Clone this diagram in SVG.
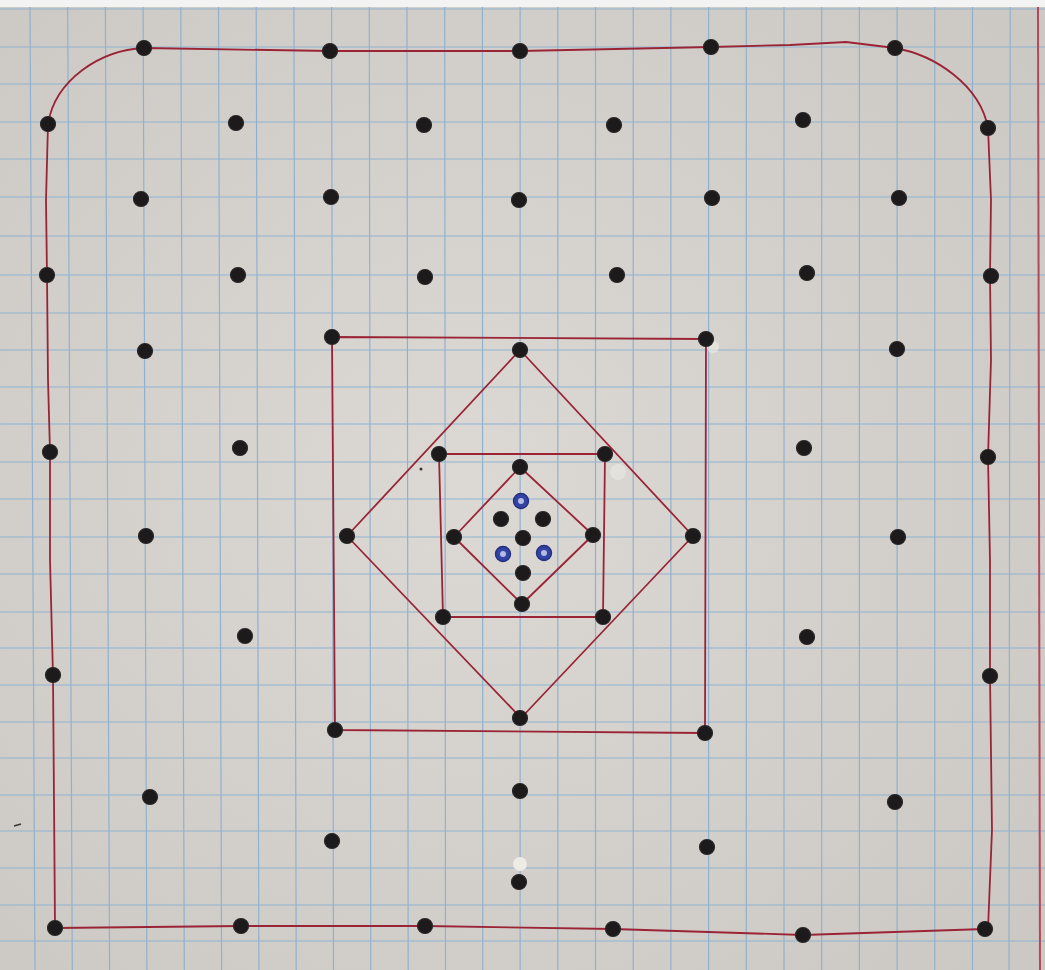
<svg xmlns="http://www.w3.org/2000/svg" width="1045" height="970" viewBox="0 0 1045 970">
<style>
.g{stroke:#8fb1cf;stroke-width:1.2;fill:none}
.ink{stroke:#9a2436;stroke-width:1.8;fill:none;stroke-linejoin:round;stroke-linecap:round}
.d{fill:#1d1a1b;stroke:#2b2728;stroke-width:1.2}
.b{fill:#3343a3;stroke:#22307e;stroke-width:1.4}
.bh{fill:#b4bce2}
</style>
<defs>
<radialGradient id="paper" cx="45%" cy="50%" r="70%">
<stop offset="0" stop-color="#dcd9d5"/>
<stop offset="1" stop-color="#ccc9c5"/>
</radialGradient>
</defs>
<rect width="1045" height="970" fill="url(#paper)"/>
<rect width="1045" height="7" fill="#f3f3f3"/>
<g id="grid" class="g">
<path d="M30,7L35,970M67.7,7L72.3,970M105.4,7L109.6,970M143.1,7L146.9,970M180.8,7L184.3,970M218.5,7L221.6,970M256.2,7L258.9,970M293.9,7L296.2,970M331.6,7L333.5,970M369.3,7L370.8,970M407,7L408.2,970M444.7,7L445.5,970M482.4,7L482.8,970M520.1,7L520.1,970M557.8,7L557.8,970M595.5,7L595.5,970M633.2,7L633.2,970M670.9,7L670.9,970M708.6,7L708.6,970M746.3,7L746.3,970M784,7L784,970M821.7,7L821.7,970M859.4,7L859.4,970M897.1,7L897.1,970M934.8,7L934.8,970M972.5,7L972.5,970M1010.2,7L1009,970"/>
<path d="M0,9H1045M0,47H1045M0,84H1045M0,122H1045M0,159H1045M0,197H1045M0,236H1045M0,275H1045M0,313H1045M0,350H1045M0,387H1045M0,424H1045M0,462H1045M0,499H1045M0,537H1045M0,574H1045M0,612H1045M0,648H1045M0,685H1045M0,722H1045M0,758H1045M0,795H1045M0,831H1045M0,868H1045M0,905H1045M0,941H1045"/>
</g>
<line id="margin" x1="1038" y1="7" x2="1040" y2="970" stroke="#b4475a" stroke-width="2"/>
<g id="marks">
<circle cx="520" cy="864" r="7" fill="#ecebe6"/>
<circle cx="618" cy="472" r="8" fill="#eeede8" opacity="0.5"/>
<circle cx="713" cy="347" r="6" fill="#eeede8" opacity="0.6"/>
<circle cx="421" cy="469" r="1.5" fill="#3a3536"/>
<line x1="14" y1="826" x2="21" y2="824" stroke="#3a3536" stroke-width="1.5"/>
</g>
<g id="connectors" class="ink">
<path d="M144,48 L330,51 L520,51 L711,47 L790,45 L846,42 L895,48 C935,55 980,85 988,128 L991,200 L990,276 L991,360 L988,457 L990,560 L990,676 L992,830 L988,929 L985,929 L803,935 L613,929 L426,926 L241,926 L55,928 L54,800 L53,676 L50,560 L50,452 L48,380 L47,276 L46,200 L48,124 C55,80 100,50 144,48 Z"/>
<path d="M332,337 L706,339 L705,733 L335,730 Z"/>
<path d="M520,350 L693,536 L521,718 L347,536 Z"/>
<path d="M439,454 L605,454 L603,617 L443,617 Z"/>
<path d="M520,467 L593,535 L522,604 L454,537 Z"/>
</g>
<g id="n1"><circle class="d" cx="144" cy="48" r="7.5"/></g>
<g id="n2"><circle class="d" cx="330" cy="51" r="7.5"/></g>
<g id="n3"><circle class="d" cx="520" cy="51" r="7.5"/></g>
<g id="n4"><circle class="d" cx="711" cy="47" r="7.5"/></g>
<g id="n5"><circle class="d" cx="895" cy="48" r="7.5"/></g>
<g id="n6"><circle class="d" cx="48" cy="124" r="7.5"/></g>
<g id="n7"><circle class="d" cx="236" cy="123" r="7.5"/></g>
<g id="n8"><circle class="d" cx="424" cy="125" r="7.5"/></g>
<g id="n9"><circle class="d" cx="614" cy="125" r="7.5"/></g>
<g id="n10"><circle class="d" cx="803" cy="120" r="7.5"/></g>
<g id="n11"><circle class="d" cx="988" cy="128" r="7.5"/></g>
<g id="n12"><circle class="d" cx="141" cy="199" r="7.5"/></g>
<g id="n13"><circle class="d" cx="331" cy="197" r="7.5"/></g>
<g id="n14"><circle class="d" cx="519" cy="200" r="7.5"/></g>
<g id="n15"><circle class="d" cx="712" cy="198" r="7.5"/></g>
<g id="n16"><circle class="d" cx="899" cy="198" r="7.5"/></g>
<g id="n17"><circle class="d" cx="47" cy="275" r="7.5"/></g>
<g id="n18"><circle class="d" cx="238" cy="275" r="7.5"/></g>
<g id="n19"><circle class="d" cx="425" cy="277" r="7.5"/></g>
<g id="n20"><circle class="d" cx="617" cy="275" r="7.5"/></g>
<g id="n21"><circle class="d" cx="807" cy="273" r="7.5"/></g>
<g id="n22"><circle class="d" cx="991" cy="276" r="7.5"/></g>
<g id="n23"><circle class="d" cx="145" cy="351" r="7.5"/></g>
<g id="n24"><circle class="d" cx="332" cy="337" r="7.5"/></g>
<g id="n25"><circle class="d" cx="520" cy="350" r="7.5"/></g>
<g id="n26"><circle class="d" cx="706" cy="339" r="7.5"/></g>
<g id="n27"><circle class="d" cx="897" cy="349" r="7.5"/></g>
<g id="n28"><circle class="d" cx="50" cy="452" r="7.5"/></g>
<g id="n29"><circle class="d" cx="240" cy="448" r="7.5"/></g>
<g id="n30"><circle class="d" cx="439" cy="454" r="7.5"/></g>
<g id="n31"><circle class="d" cx="605" cy="454" r="7.5"/></g>
<g id="n32"><circle class="d" cx="804" cy="448" r="7.5"/></g>
<g id="n33"><circle class="d" cx="988" cy="457" r="7.5"/></g>
<g id="n34"><circle class="d" cx="520" cy="467" r="7.5"/></g>
<g id="n35"><circle class="d" cx="146" cy="536" r="7.5"/></g>
<g id="n36"><circle class="d" cx="347" cy="536" r="7.5"/></g>
<g id="n37"><circle class="d" cx="454" cy="537" r="7.5"/></g>
<g id="n38"><circle class="d" cx="593" cy="535" r="7.5"/></g>
<g id="n39"><circle class="d" cx="693" cy="536" r="7.5"/></g>
<g id="n40"><circle class="d" cx="898" cy="537" r="7.5"/></g>
<g id="n41"><circle class="b" cx="521" cy="501" r="7.5"/><circle class="bh" cx="521" cy="501" r="3"/></g>
<g id="n42"><circle class="d" cx="501" cy="519" r="7.5"/></g>
<g id="n43"><circle class="d" cx="543" cy="519" r="7.5"/></g>
<g id="n44"><circle class="d" cx="523" cy="538" r="7.5"/></g>
<g id="n45"><circle class="b" cx="503" cy="554" r="7.5"/><circle class="bh" cx="503" cy="554" r="3"/></g>
<g id="n46"><circle class="b" cx="544" cy="553" r="7.5"/><circle class="bh" cx="544" cy="553" r="3"/></g>
<g id="n47"><circle class="d" cx="523" cy="573" r="7.5"/></g>
<g id="n48"><circle class="d" cx="522" cy="604" r="7.5"/></g>
<g id="n49"><circle class="d" cx="443" cy="617" r="7.5"/></g>
<g id="n50"><circle class="d" cx="603" cy="617" r="7.5"/></g>
<g id="n51"><circle class="d" cx="245" cy="636" r="7.5"/></g>
<g id="n52"><circle class="d" cx="807" cy="637" r="7.5"/></g>
<g id="n53"><circle class="d" cx="53" cy="675" r="7.5"/></g>
<g id="n54"><circle class="d" cx="990" cy="676" r="7.5"/></g>
<g id="n55"><circle class="d" cx="520" cy="718" r="7.5"/></g>
<g id="n56"><circle class="d" cx="335" cy="730" r="7.5"/></g>
<g id="n57"><circle class="d" cx="705" cy="733" r="7.5"/></g>
<g id="n58"><circle class="d" cx="520" cy="791" r="7.5"/></g>
<g id="n59"><circle class="d" cx="150" cy="797" r="7.5"/></g>
<g id="n60"><circle class="d" cx="895" cy="802" r="7.5"/></g>
<g id="n61"><circle class="d" cx="332" cy="841" r="7.5"/></g>
<g id="n62"><circle class="d" cx="707" cy="847" r="7.5"/></g>
<g id="n63"><circle class="d" cx="519" cy="882" r="7.5"/></g>
<g id="n64"><circle class="d" cx="55" cy="928" r="7.5"/></g>
<g id="n65"><circle class="d" cx="241" cy="926" r="7.5"/></g>
<g id="n66"><circle class="d" cx="425" cy="926" r="7.5"/></g>
<g id="n67"><circle class="d" cx="613" cy="929" r="7.5"/></g>
<g id="n68"><circle class="d" cx="803" cy="935" r="7.5"/></g>
<g id="n69"><circle class="d" cx="985" cy="929" r="7.5"/></g>
</svg>
